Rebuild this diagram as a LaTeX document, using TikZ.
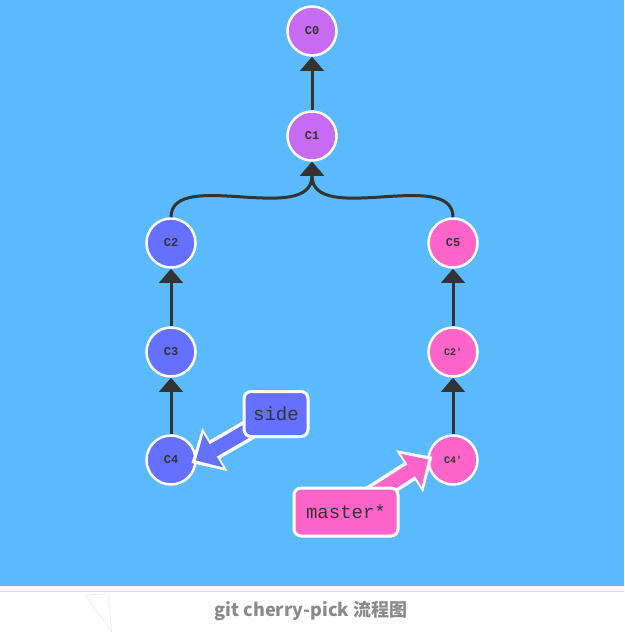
\documentclass[tikz,border=0pt]{standalone}
\usepackage{fontspec}
\setmonofont{Liberation Mono}
\newfontfamily\cjk{Noto Sans CJK SC}
\usepackage{xcolor}
\usetikzlibrary{arrows.meta,positioning}
\definecolor{gitbg}{HTML}{5BBAFB}
\definecolor{gitdark}{HTML}{333333}
\definecolor{gitpurple}{HTML}{C66BF2}
\definecolor{gitblue}{HTML}{6670FF}
\definecolor{gitpink}{HTML}{FF64C8}
\definecolor{gitcap}{HTML}{8A8A8A}
\pgfdeclarelayer{front}
\pgfsetlayers{main,front}

\begin{document}
\begin{tikzpicture}[x=1pt,y=-1pt,
    commit/.style={circle,draw=white,line width=2.5pt,minimum size=49pt,inner sep=0pt,
      text=gitdark,font=\ttfamily\bfseries\fontsize{12}{14}\selectfont},
    parent/.style={gitdark,line width=3pt,-{Triangle[width=24pt,length=14pt,line width=0pt]}},
    branch/.style={draw=white,line width=3pt,rounded corners=7pt,inner sep=0pt,
      text=gitdark,font=\ttfamily\fontsize{19}{21}\selectfont},
    tagout/.style={white,line width=21pt,shorten >=-6pt,-{Triangle[width=50pt,length=27pt,line width=0pt]}},
    tagin/.style={line width=14pt,shorten >=-1pt,-{Triangle[width=39pt,length=20pt,line width=0pt]}}]
  \useasboundingbox (0,0) rectangle (624,632);
  \fill[gitbg] (0,0) rectangle (624,585.5);
  \draw[black!15] (0,591) -- (624,591);
  \draw[black!12] (85,595) -- (108,594) -- (112,632) (85,595) -- (112,632);

  % commits
  \node[commit,fill=gitpurple] (c0) at (312,31) {C0};
  \node[commit,fill=gitpurple] (c1) at (312,136) {C1};
  \node[commit,fill=gitblue] (c2) at (171,243) {C2};
  \node[commit,fill=gitblue] (c3) at (171,352) {C3};
  \node[commit,fill=gitblue] (c4) at (171,460) {C4};
  \node[commit,fill=gitpink] (c5) at (453,243) {C5};
  \node[commit,fill=gitpink,font=\ttfamily\bfseries\fontsize{10}{12}\selectfont] (c2p) at (453,352) {C2'};
  \node[commit,fill=gitpink,font=\ttfamily\bfseries\fontsize{10}{12}\selectfont] (c4p) at (453,460) {C4'};

  \draw[parent] (c1) -- (c0);
  \draw[parent] (c2.north) .. controls +(0,-50) and +(0,65) .. (c1.south);
  \draw[parent] (c5.north) .. controls +(0,-50) and +(0,65) .. (c1.south);
  \draw[parent] (c3) -- (c2);
  \draw[parent] (c4) -- (c3);
  \draw[parent] (c2p) -- (c5);
  \draw[parent] (c4p) -- (c2p);

  % branch labels
  \begin{pgfonlayer}{front}
    \node[branch,fill=gitblue,minimum width=64pt,minimum height=45pt] (side) at (276,414) {side};
    \node[branch,fill=gitpink,minimum width=104pt,minimum height=48pt] (master) at (346,512) {master*};
  \end{pgfonlayer}
  \draw[tagout] (side.center) -- (c4.east);
  \draw[tagin,gitblue] (side.center) -- (c4.east);
  \draw[tagout] (master.center) -- (c4p.west);
  \draw[tagin,gitpink] (master.center) -- (c4p.west);

  \node[font=\cjk\bfseries\fontsize{18}{20}\selectfont,text=gitcap] (caption) at (311,611) {git cherry-pick 流程图};
\end{tikzpicture}
\end{document}
